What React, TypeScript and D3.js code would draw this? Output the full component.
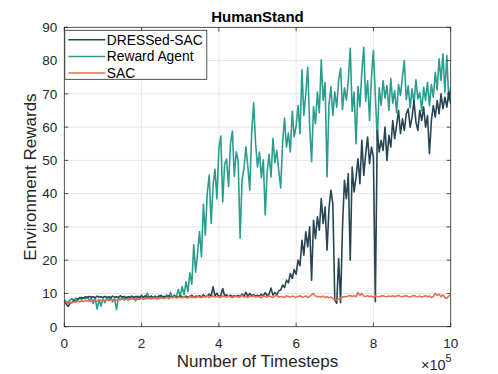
import React, { useEffect, useRef } from 'react';
import * as d3 from 'd3';

// one sample every 5000 timesteps, 0 .. 1e6
const STEP = 5000;

const rewardAgent = [
  8.0, 7.6, 7.2, 8.1, 8.4, 8.0, 8.6, 8.3, 8.8, 8.2,
  8.7, 8.4, 8.9, 7.9, 8.6, 7.0, 8.5, 5.3, 8.2, 6.1,
  8.4, 7.2, 8.6, 8.0, 8.8, 7.5, 8.5, 5.2, 8.7, 8.1,
  9.0, 8.3, 8.7, 8.0, 9.1, 8.4, 8.8, 7.8, 9.2, 8.5,
  9.6, 8.2, 9.0, 10.1, 8.4, 9.3, 8.6, 9.0, 8.3, 9.4,
  8.7, 9.1, 8.5, 9.6, 8.4, 10.3, 8.8, 9.5, 8.9, 11.2,
  9.2, 12.1, 9.6, 13.5, 10.5, 16.2, 12.8, 24.6, 16.4, 22.3,
  28.6, 21.0, 36.8, 27.5, 40.2, 45.6, 31.0, 42.5, 47.3, 38.4,
  53.6, 57.3, 37.5, 48.9, 50.4, 42.1, 55.0, 58.8, 45.2, 52.6,
  49.8, 26.6, 44.0, 47.5, 54.1, 48.2, 41.0, 58.5, 67.3, 55.2,
  48.0, 52.5, 44.8, 50.2, 33.6, 46.5, 51.8, 45.0, 56.6, 49.3,
  53.0, 46.8, 41.7, 55.4, 62.7, 54.0, 58.2, 52.5, 64.8, 57.1,
  60.3, 66.5, 58.0, 77.2, 63.5, 70.1, 78.0, 60.4, 49.6, 66.2,
  61.0, 70.5, 64.3, 80.2, 68.0, 73.4, 45.0, 66.8, 72.1, 63.5,
  70.6, 66.0, 74.2, 77.7, 65.3, 71.8, 68.2, 74.0, 83.7, 64.8,
  70.5, 55.0, 72.3, 66.1, 76.5, 84.0, 67.8, 73.9, 62.0, 75.2,
  83.0, 69.4, 56.0, 71.8, 66.5, 74.0, 68.7, 72.5, 65.0, 74.6,
  67.2, 71.0, 64.3, 72.8, 69.5, 75.0, 80.0, 68.2, 72.4, 65.8,
  71.5, 67.0, 74.2, 68.5, 70.3, 64.9, 72.0, 68.0, 73.5, 66.4,
  72.8, 69.0, 76.5, 71.2, 80.5, 74.0, 82.0, 70.5, 81.5, 68.0,
  72.0,
];

const dressedSac = [
  7.8, 6.8, 6.1, 7.0, 7.4, 7.9, 7.6, 8.3, 8.5, 8.8,
  8.6, 9.0, 8.8, 9.1, 8.9, 9.0, 8.7, 9.2, 8.9, 9.0,
  8.8, 9.1, 8.8, 9.0, 8.7, 9.2, 8.9, 9.0, 8.8, 9.3,
  8.9, 9.1, 8.7, 9.0, 8.9, 9.2, 8.8, 9.1, 9.0, 8.8,
  9.2, 8.9, 9.3, 8.8, 9.0, 9.1, 8.7, 9.2, 8.9, 9.0,
  9.4, 8.8, 9.1, 8.9, 9.3, 9.0, 8.8, 9.2, 9.0, 8.9,
  9.3, 9.0, 8.8, 9.2, 8.9, 9.1, 9.4, 8.8, 9.2, 9.0,
  9.3, 8.9, 9.6, 9.0, 9.2, 9.8, 9.1, 12.0, 9.3, 10.1,
  9.0, 9.4, 11.5, 9.2, 9.6, 9.1, 9.5, 9.0, 9.3, 9.1,
  9.4, 9.0, 9.8, 9.2, 10.3, 9.1, 10.0, 9.3, 9.6, 9.2,
  9.5, 9.1, 9.7, 9.3, 10.2, 9.4, 9.8, 11.6, 9.5, 10.3,
  9.6, 10.8, 11.0, 12.5, 11.8, 14.0, 13.2, 16.0, 14.5, 17.2,
  15.8, 20.0, 18.3, 26.0, 21.5, 28.5, 24.0, 30.0, 14.0, 32.0,
  26.5, 33.0, 29.0, 38.5, 31.0, 36.0, 23.0, 35.5, 41.0, 37.0,
  8.0, 7.0, 20.5, 7.2, 30.0, 44.0, 38.5, 46.0, 20.0, 48.0,
  40.5, 45.0, 50.5, 43.0, 56.0, 45.5, 52.0, 57.0, 49.0, 54.0,
  51.0, 7.5, 59.0, 52.5, 56.0, 53.0, 60.0, 50.0, 57.5, 54.0,
  62.0, 56.5, 60.5, 65.0, 58.0, 62.5, 59.0, 64.0, 65.5, 60.0,
  63.0, 68.0, 61.5, 59.0, 65.0, 62.0, 66.0, 60.0, 63.5, 52.0,
  62.0, 66.5, 63.0, 68.0, 64.0, 70.0, 65.5, 69.0, 66.0, 70.5,
  67.0,
];

const sac = [
  7.6, 7.4, 7.0, 7.3, 7.2, 7.5, 7.4, 7.7, 7.5, 7.8,
  7.6, 7.9, 7.7, 7.8, 7.6, 8.0, 7.8, 7.7, 8.1, 7.9,
  8.0, 7.8, 8.2, 7.9, 8.1, 8.0, 8.3, 7.9, 8.2, 8.1,
  8.4, 8.0, 8.2, 8.3, 8.1, 8.5, 8.2, 8.4, 8.3, 8.2,
  8.6, 8.3, 8.5, 8.4, 8.7, 8.3, 8.6, 8.5, 8.8, 8.4,
  8.7, 8.6, 8.5, 8.9, 8.6, 8.8, 8.7, 9.0, 8.6, 8.9,
  8.8, 8.7, 9.0, 8.8, 8.6, 9.1, 8.8, 9.0, 8.7, 9.2,
  8.9, 8.8, 9.1, 8.9, 9.3, 8.8, 9.0, 9.2, 8.9, 9.1,
  9.0, 8.8, 9.2, 9.0, 8.9, 9.3, 9.0, 8.8, 9.1, 9.2,
  8.9, 9.0, 9.4, 8.9, 9.1, 8.8, 9.2, 9.0, 9.3, 8.9,
  9.1, 9.0, 8.7, 9.2, 9.1, 8.9, 9.3, 9.0, 8.8, 9.2,
  9.4, 8.9, 9.1, 9.0, 8.8, 9.3, 9.1, 8.9, 9.2, 9.0,
  8.9, 9.1, 9.3, 8.9, 9.0, 9.2, 8.8, 9.1, 9.6, 10.0,
  9.2, 9.0, 9.1, 8.9, 9.2, 8.8, 9.0, 8.7, 8.9, 8.5,
  8.2, 8.0, 8.3, 8.6, 8.9, 9.1, 9.0, 9.2, 9.4, 9.1,
  9.3, 9.0, 10.3, 9.4, 10.0, 9.2, 9.1, 9.3, 9.0, 9.2,
  8.8, 9.3, 9.1, 9.0, 9.2, 9.3, 9.1, 9.0, 9.2, 9.1,
  9.3, 9.0, 9.2, 9.4, 9.1, 9.0, 9.2, 9.3, 9.1, 8.9,
  9.2, 9.4, 9.1, 9.0, 9.2, 8.9, 9.1, 9.3, 9.0, 9.2,
  8.8, 9.1, 10.0, 9.4, 9.8, 9.0, 9.6, 8.8, 8.5, 9.2,
  9.6,
];

const xTicks = [0, 2, 4, 6, 8, 10];
const yTicks = [0, 10, 20, 30, 40, 50, 60, 70, 80, 90];

// draw order: reward agent underneath, then DRESSed-SAC, SAC on top
const series = [
  { name: 'Reward Agent', values: rewardAgent, color: '#2a9d8f' },
  { name: 'DRESSed-SAC', values: dressedSac, color: '#264653' },
  { name: 'SAC', values: sac, color: '#e76f51' },
];
const legendOrder = ['DRESSed-SAC', 'Reward Agent', 'SAC'];

const App = () => {
  const svgRef = useRef<SVGSVGElement>(null);

  useEffect(() => {
    const W = 498, H = 374;
    const margin = { top: 27.3, right: 498 - 450.7, bottom: 374 - 326.7, left: 64.3 };
    const width = W - margin.left - margin.right;
    const height = H - margin.top - margin.bottom;
    const font = 'Liberation Sans, Arial, Helvetica, sans-serif';

    d3.select(svgRef.current).selectAll('*').remove();
    const root = d3.select(svgRef.current).attr('width', W).attr('height', H);
    root.append('rect').attr('width', W).attr('height', H).attr('fill', '#fff');

    const svg = root.append('g').attr('transform', `translate(${margin.left},${margin.top})`);

    const x = d3.scaleLinear().domain([0, 10]).range([0, width]);
    const y = d3.scaleLinear().domain([0, 90]).range([height, 0]);

    // grid
    svg.append('g').selectAll('line').data(xTicks.slice(1, -1)).enter().append('line')
      .attr('x1', d => x(d)).attr('x2', d => x(d)).attr('y1', 0).attr('y2', height)
      .attr('stroke', '#e6e6e6').attr('stroke-width', 1);
    svg.append('g').selectAll('line').data(yTicks.slice(1, -1)).enter().append('line')
      .attr('y1', d => y(d)).attr('y2', d => y(d)).attr('x1', 0).attr('x2', width)
      .attr('stroke', '#e6e6e6').attr('stroke-width', 1);

    svg.append('clipPath').attr('id', 'plotclip').append('rect')
      .attr('width', width).attr('height', height);

    const line = d3.line<number>()
      .x((_, i) => x((i * STEP) / 1e5))
      .y(d => y(d));

    const lines = svg.append('g').attr('clip-path', 'url(#plotclip)');
    series.forEach(s => {
      lines.append('path')
        .datum(s.values)
        .attr('d', line)
        .attr('fill', 'none')
        .attr('stroke', s.color)
        .attr('stroke-width', 1.6)
        .attr('stroke-linejoin', 'round');
    });

    // axes, MATLAB style: box with inward ticks on every side
    const tickLen = 4;
    const axisColor = '#262626';
    const axisG = svg.append('g');
    axisG.append('rect').attr('width', width).attr('height', height)
      .attr('fill', 'none').attr('stroke', axisColor).attr('stroke-width', 0.8);
    xTicks.forEach(t => {
      axisG.append('line').attr('x1', x(t)).attr('x2', x(t)).attr('y1', height).attr('y2', height - tickLen)
        .attr('stroke', axisColor).attr('stroke-width', 0.8);
      axisG.append('line').attr('x1', x(t)).attr('x2', x(t)).attr('y1', 0).attr('y2', tickLen)
        .attr('stroke', axisColor).attr('stroke-width', 0.8);
      axisG.append('text').attr('x', x(t)).attr('y', height + 21)
        .attr('text-anchor', 'middle').attr('font-family', font).attr('font-size', 13.5)
        .attr('fill', axisColor).text(String(t));
    });
    yTicks.forEach(t => {
      axisG.append('line').attr('x1', 0).attr('x2', tickLen).attr('y1', y(t)).attr('y2', y(t))
        .attr('stroke', axisColor).attr('stroke-width', 0.8);
      axisG.append('line').attr('x1', width).attr('x2', width - tickLen).attr('y1', y(t)).attr('y2', y(t))
        .attr('stroke', axisColor).attr('stroke-width', 0.8);
      axisG.append('text').attr('x', -7).attr('y', y(t)).attr('dy', '0.36em')
        .attr('text-anchor', 'end').attr('font-family', font).attr('font-size', 13.5)
        .attr('fill', axisColor).text(String(t));
    });

    // exponent
    const expo = axisG.append('text').attr('x', width + 1).attr('y', height + 43)
      .attr('text-anchor', 'end').attr('font-family', font).attr('font-size', 14.5).attr('fill', axisColor);
    expo.append('tspan').text('\u00d710');
    expo.append('tspan').attr('dy', -8).attr('font-size', 11).text('5');

    // labels
    root.append('text').attr('x', margin.left + width / 2).attr('y', 367)
      .attr('text-anchor', 'middle').attr('font-family', font).attr('font-size', 17)
      .attr('fill', axisColor).text('Number of Timesteps');
    root.append('text')
      .attr('transform', `translate(36,${margin.top + height / 2}) rotate(-90)`)
      .attr('text-anchor', 'middle').attr('font-family', font).attr('font-size', 17)
      .attr('fill', axisColor).text('Environment Rewards');
    root.append('text').attr('x', margin.left + width / 2).attr('y', 22)
      .attr('text-anchor', 'middle').attr('font-family', font).attr('font-size', 15)
      .attr('font-weight', 'bold').attr('fill', '#000').text('HumanStand');

    // legend
    const lg = svg.append('g').attr('transform', 'translate(0,3)');
    lg.append('rect').attr('x', 0.5).attr('y', 0).attr('width', 142).attr('height', 49)
      .attr('fill', '#fff').attr('stroke', axisColor).attr('stroke-width', 0.8);
    legendOrder.forEach((name, i) => {
      const s = series.find(d => d.name === name)!;
      const cy = 9.5 + i * 16.6;
      lg.append('line').attr('x1', 4).attr('x2', 41).attr('y1', cy).attr('y2', cy)
        .attr('stroke', s.color).attr('stroke-width', 1.5);
      lg.append('text').attr('x', 42.5).attr('y', cy).attr('dy', '0.36em')
        .attr('font-family', font).attr('font-size', 13.8).attr('fill', '#000').text(name);
    });
  }, []);

  return <svg ref={svgRef} style={{ position: 'absolute', left: 0, top: 0 }}></svg>;
};

export default App;
